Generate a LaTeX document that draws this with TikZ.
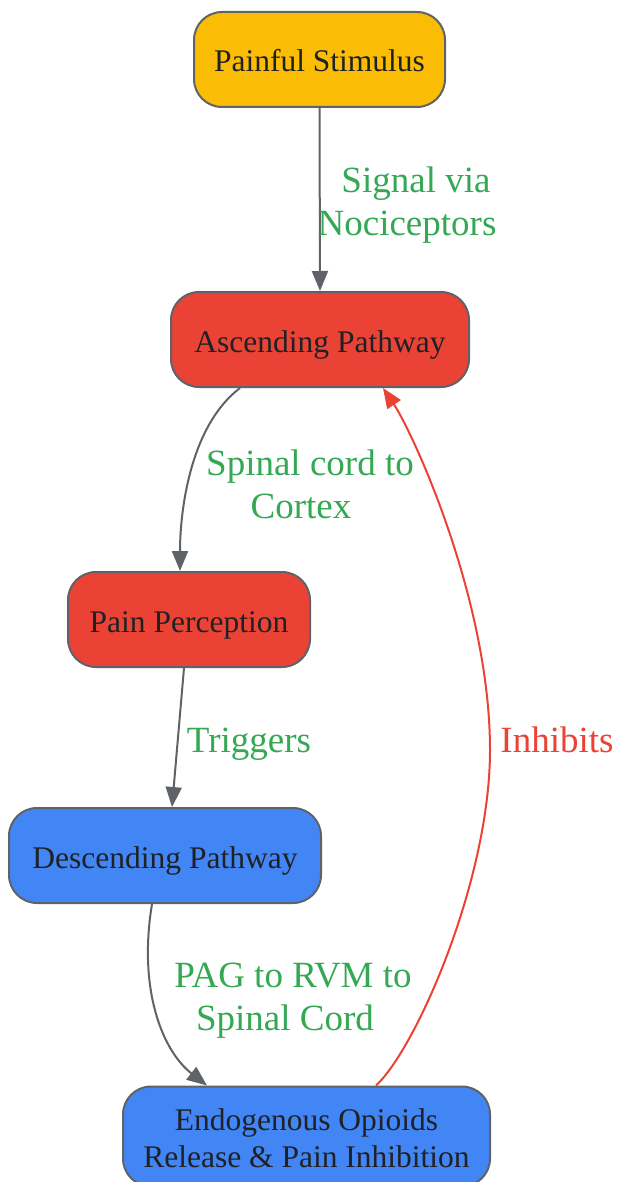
\documentclass[tikz,border=0pt]{standalone}
\usepackage{fontspec}
\setmainfont{Liberation Serif}
\usetikzlibrary{arrows.meta}
\definecolor{cyellow}{HTML}{FBBC05}
\definecolor{cred}{HTML}{EA4335}
\definecolor{cblue}{HTML}{4285F4}
\definecolor{cgray}{HTML}{5F6368}
\definecolor{cgreen}{HTML}{34A853}
\definecolor{ctext}{HTML}{202124}
\tikzset{
  box/.style={draw=cgray, line width=2pt, rounded corners=28pt, inner sep=0pt,
    minimum height=95pt, text=ctext, align=center, text height=25pt, text depth=0pt,
    font=\fontsize{31.5pt}{37pt}\selectfont},
  conn/.style={draw=cgray, line width=2pt, -{Triangle[length=20pt,width=16pt]}},
  inh/.style={draw=cred, line width=2pt, -{Triangle[length=20pt,width=16pt]}},
  lbl/.style={text=cgreen, align=center, font=\fontsize{37pt}{43pt}\selectfont, inner sep=0pt},
}
\begin{document}
\begin{tikzpicture}[x=1pt,y=-1pt]
\useasboundingbox (0,0) rectangle (617,1182);
\node[box, fill=cyellow, minimum width=251pt] (stim) at (319.5,59.5) {Painful Stimulus};
\node[box, fill=cred, minimum width=298pt] (asc) at (320,339.5) {Ascending Pathway};
\node[box, fill=cred, minimum width=242pt] (perc) at (189,619.5) {Pain Perception};
\node[box, fill=cblue, minimum width=312pt] (desc) at (165,855.5) {Descending Pathway};
\node[box, fill=cblue, minimum width=367pt, minimum height=100pt, text height=62pt] (endo) at (306.5,1136.5) {Endogenous Opioids\\Release \& Pain Inhibition};

\draw[conn] (stim.south) -- (asc.north);
\draw[conn] ([xshift=-80pt]asc.south) .. controls +(-50,38) and +(0,-60) .. ([xshift=-9pt]perc.north);
\draw[conn] ([xshift=-5pt]perc.south) -- ([xshift=7pt]desc.north);
\draw[conn] ([xshift=-13pt]desc.south) .. controls +(-14,85) and +(-45,-35) .. ([xshift=-99.5pt]endo.north);
\draw[inh] ([xshift=69.5pt]endo.north) .. controls +(40,-37) and +(0,130) .. (490,750)
  .. controls +(0,-150) and +(30,45) .. ([xshift=63pt]asc.south);

\node[lbl] (l1) at (407,205) {\rule{18pt}{0pt}Signal via\\Nociceptors};
\node[lbl] (l2) at (310,484) {Spinal cord to\\Cortex\rule{18pt}{0pt}};
\node[lbl] (l3) at (249,744) {Triggers};
\node[lbl] (l4) at (293,1001) {PAG to RVM to\\Spinal Cord\rule{16pt}{0pt}};
\node[lbl, text=cred] (l5) at (557,740) {Inhibits};
\end{tikzpicture}
\end{document}
